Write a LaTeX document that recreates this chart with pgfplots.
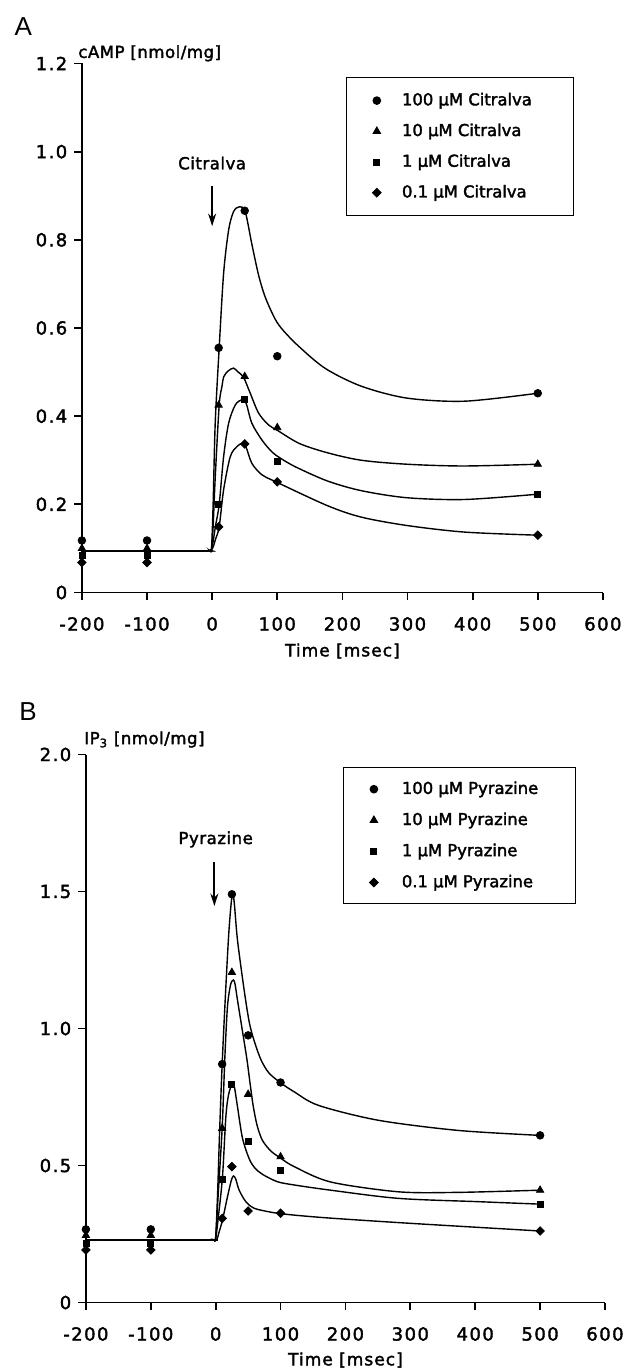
\documentclass[border=0pt]{standalone}
\usepackage{fontspec}
\setmainfont{DejaVu Sans}[FakeBold=2]
\newfontfamily\letterfont{Liberation Sans}
\usepackage{pgfplots}
\pgfplotsset{compat=1.18}
\usetikzlibrary{arrows.meta}

\newcommand\tickfont{\fontsize{9}{10}\selectfont\addfontfeatures{LetterSpace=8}}
\newcommand\labfont{\fontsize{8.3}{10}\selectfont\addfontfeatures{LetterSpace=3}}
\newcommand\timefont{\fontsize{8.5}{10}\selectfont\addfontfeatures{LetterSpace=6}}

\pgfplotsset{
  panel/.style={
    scale only axis, axis lines=left, axis line style={-, line width=0.9pt},
    tick align=outside, major tick length=3.8pt, tick style={line width=0.9pt, black},
    xmin=-200, xmax=600, xtick={-200,-100,0,100,200,300,400,500,600},
    xticklabels={-200,-100,0,100,200,300,400,500,600},
    tick label style={font=\tickfont},
    xticklabel shift=5pt,
    clip=false,
    xlabel={Time [msec]},
    xlabel style={font=\timefont, at={(axis description cs:0.5,0)}, anchor=center},
    ylabel style={font=\labfont, rotate=-90, at={(axis description cs:0,1)}, anchor=base west, inner sep=0pt},
    legend cell align=left,
    legend style={draw=black, line width=0.5pt, inner xsep=0pt, row sep=0pt,
      font=\fontsize{8.2}{10}\selectfont, anchor=north west, nodes={inner sep=2pt, draw=none}},
  },
  curve/.style={smooth, tension=0.5, line width=0.7pt, black, no markers, forget plot},
  m1/.style={only marks, mark=*, mark size=1.9pt, black},
  m2/.style={only marks, mark=triangle*, mark size=2.1pt, black},
  m3/.style={only marks, mark=square*, mark size=1.5pt, black},
  m4/.style={only marks, mark=square*, mark size=1.5pt, mark options={rotate=45}, black},
}

\begin{document}
\begin{tikzpicture}
\path[use as bounding box] (0,0) rectangle (311.5pt,-684.5pt);

\node[font=\letterfont\fontsize{13}{14}\selectfont] at (11.6pt,-13.5pt) {A};
\node[font=\letterfont\fontsize{13}{14}\selectfont] at (14pt,-356pt) {B};

% ---------------- panel A: cAMP ----------------
\begin{axis}[panel,
    at={(40.95pt,-296.25pt)}, anchor=south west,
    width=260.5pt, height=264.5pt,
    ymin=0, ymax=1.2, ytick={0,0.2,0.4,0.6,0.8,1.0,1.2},
    yticklabels={0,0.2,0.4,0.6,0.8,1.0,1.2},
    xlabel style={yshift=-29.25pt},
    ylabel={cAMP [nmol/mg]},
    ylabel style={xshift=-2pt, yshift=2.8pt},
    legend style={at={(0.506,0.974)}, inner ysep=3.75pt},
    legend image code/.code={\path[draw=none] (-15.4pt,-7.675pt) rectangle (10.6pt,7.675pt);
      \draw[#1] plot coordinates {(0pt,0pt)};},
  ]
  \addplot[curve] coordinates {(-200,0.094) (-20,0.094) (-4,0.095) (-1,0.100) (1.5,0.20) (4.7,0.384) (10.8,0.555) (17.6,0.724) (25.3,0.822) (32.9,0.864) (42,0.875) (50.8,0.864) (61,0.79) (71.3,0.72) (81.5,0.67) (96.8,0.62) (110,0.593) (134,0.557) (174,0.508) (229,0.468) (299,0.441) (388,0.434) (500,0.452)};
  \addplot[curve] coordinates {(-200,0.094) (-20,0.094) (-4,0.095) (-1,0.099) (1.5,0.15) (4.7,0.26) (10.8,0.425) (15,0.467) (18,0.49) (25,0.503) (32.9,0.509) (40,0.50) (48.3,0.488) (58.5,0.452) (71.3,0.407) (86.7,0.38) (100,0.368) (134,0.338) (177,0.317) (229,0.300) (299,0.291) (386,0.287) (500,0.291)};
  \addplot[curve] coordinates {(-200,0.094) (-20,0.094) (-4,0.095) (-1,0.098) (2,0.12) (5,0.15) (10.8,0.20) (17.6,0.308) (25.3,0.384) (35.4,0.425) (45,0.437) (52,0.43) (61,0.384) (76.4,0.346) (91.7,0.319) (104.5,0.305) (128,0.285) (177,0.253) (229,0.231) (299,0.215) (388,0.211) (500,0.223)};
  \addplot[curve] coordinates {(-200,0.094) (-20,0.094) (-4,0.095) (-1,0.097) (2,0.105) (5,0.12) (10.8,0.149) (17.6,0.233) (27.8,0.308) (38,0.331) (46,0.338) (52,0.33) (61,0.293) (76.4,0.267) (98,0.251) (177,0.197) (229,0.171) (299,0.152) (388,0.137) (500,0.130)};

  \addplot[m1] coordinates {(-200,0.118) (-100,0.118) (10,0.555) (50,0.866) (100,0.536) (500,0.452)};
  \addlegendentry{100 µM Citralva\hspace*{18.7pt}}
  \addplot[m2] coordinates {(-200,0.100) (-100,0.100) (10,0.425) (50,0.490) (100,0.374) (500,0.291)};
  \addlegendentry{10 µM Citralva}
  \addplot[m3] coordinates {(-200,0.085) (-100,0.085) (10,0.200) (50,0.438) (100,0.298) (500,0.223)};
  \addlegendentry{1 µM Citralva}
  \addplot[m4] coordinates {(-200,0.068) (-100,0.068) (10,0.149) (50,0.337) (100,0.251) (500,0.130)};
  \addlegendentry{0.1 µM Citralva}

  \draw[-{Stealth[length=6.3pt,width=4pt]}, line width=0.9pt] (axis cs:0,0.922) -- (axis cs:0,0.831);
  \node[font=\labfont] at (axis cs:0,0.974) {Citralva};
\end{axis}

% ---------------- panel B: IP3 ----------------
\begin{axis}[panel,
    at={(42.95pt,-651.25pt)}, anchor=south west,
    width=259.55pt, height=274pt,
    ymin=0, ymax=2, ytick={0,0.5,1.0,1.5,2.0},
    yticklabels={0,0.5,1.0,1.5,2.0},
    xlabel style={yshift=-28.75pt},
    ylabel={IP\textsubscript{3} [nmol/mg]},
    ylabel style={xshift=-1pt, yshift=5.2pt},
    legend style={at={(0.4947,0.9766)}, inner ysep=2.9pt},
    legend image code/.code={\path[draw=none] (-15.35pt,-7.775pt) rectangle (12pt,7.775pt);
      \draw[#1] plot coordinates {(0pt,0pt)};},
  ]
  \addplot[curve] coordinates {(-200,0.228) (-10,0.228) (-3,0.229) (0,0.24) (3,0.40) (6,0.62) (10,0.87) (15,1.12) (20,1.34) (24,1.46) (26.5,1.49) (29,1.45) (33.6,1.323) (43.9,1.14) (52,1.02) (60,0.95) (70,0.885) (82,0.838) (100,0.802) (121,0.769) (159,0.719) (251,0.665) (374,0.628) (500,0.610)};
  \addplot[curve] coordinates {(-200,0.228) (-10,0.228) (-3,0.229) (0,0.236) (4,0.40) (10,0.636) (14.2,0.897) (18.2,1.08) (23,1.16) (27.4,1.177) (30,1.16) (33.6,1.104) (41.3,0.99) (48,0.89) (53,0.80) (58,0.715) (64,0.645) (72,0.592) (85,0.553) (100,0.527) (121,0.496) (177,0.44) (282,0.404) (374,0.402) (500,0.410)};
  \addplot[curve] coordinates {(-200,0.228) (-10,0.228) (-3,0.229) (0,0.233) (4,0.31) (10.5,0.459) (15.7,0.678) (20,0.76) (25.9,0.80) (29,0.785) (33.6,0.715) (41.3,0.60) (51.6,0.525) (60,0.492) (72,0.468) (95,0.441) (121,0.429) (177,0.41) (282,0.38) (405,0.368) (500,0.359)};
  \addplot[curve] coordinates {(-200,0.228) (-10,0.228) (-3,0.228) (2,0.231) (5,0.255) (10.5,0.301) (18.2,0.386) (24,0.445) (27.4,0.462) (31,0.45) (36.2,0.41) (46.5,0.368) (59.3,0.344) (80,0.332) (95,0.326) (121,0.319) (177,0.308) (300,0.289) (500,0.261)};

  \addplot[m1] coordinates {(-200,0.267) (-100,0.267) (10,0.870) (25,1.490) (50,0.975) (100,0.803) (500,0.610)};
  \addlegendentry{100 µM Pyrazine\hspace*{16.7pt}}
  \addplot[m2] coordinates {(-200,0.245) (-100,0.245) (10,0.636) (25,1.205) (50,0.760) (100,0.532) (500,0.410)};
  \addlegendentry{10 µM Pyrazine}
  \addplot[m3] coordinates {(-200,0.215) (-100,0.215) (10,0.450) (25,0.797) (50,0.589) (100,0.482) (500,0.359)};
  \addlegendentry{1 µM Pyrazine}
  \addplot[m4] coordinates {(-200,0.192) (-100,0.192) (10,0.307) (25,0.496) (50,0.334) (100,0.326) (500,0.261)};
  \addlegendentry{0.1 µM Pyrazine}

  \draw[-{Stealth[length=6.3pt,width=4pt]}, line width=0.9pt] (axis cs:-2,1.608) -- (axis cs:-2,1.447);
  \node[font=\labfont] at (axis cs:0,1.690) {Pyrazine};
\end{axis}
\end{tikzpicture}
\end{document}
